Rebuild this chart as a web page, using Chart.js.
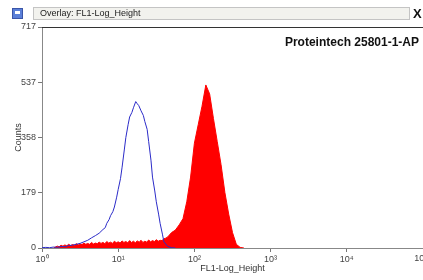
<!DOCTYPE html>
<html>
<head>
<meta charset="utf-8">
<script src="https://cdn.jsdelivr.net/npm/chart.js@4.4.0/dist/chart.umd.min.js"></script>
<style>
  html, body { margin: 0; padding: 0; background: #fff; overflow: hidden; }
  #wrap { position: relative; width: 423px; height: 280px; overflow: hidden; }
  #chart { position: absolute; left: 0; top: 0; }
  .icon { position: absolute; left: 12px; top: 8px; width: 11px; height: 11px; background: #5a7fd8; border: 1px solid #3a55a8; box-sizing: border-box; }
  .icon div { position: absolute; left: 2px; top: 2px; width: 5px; height: 3px; background: #fff; }
  .bar { position: absolute; left: 33px; top: 7px; width: 377px; height: 13px; background: #f2f2ee; border: 1px solid #c4c4c4; box-sizing: border-box;
         font: 9px Arial, "Liberation Sans", sans-serif; color: #222; line-height: 11px; padding-left: 6px; }
  .close { position: absolute; left: 413px; top: 6px; font: bold 13px Arial, "Liberation Sans", sans-serif; color: #111; }
</style>
</head>
<body>
<div id="wrap">
  <canvas id="chart" width="428" height="280"></canvas>
  <div class="icon"><div></div></div>
  <div class="bar">Overlay: FL1-Log_Height</div>
  <div class="close">X</div>
</div>
<script>
// channel positions are log10 of the fluorescence value
const blueLog = [0.00, 0.05, 0.10, 0.15, 0.20, 0.25, 0.30, 0.35, 0.40, 0.45, 0.50, 0.55, 0.60, 0.65, 0.70,
  0.75, 0.80, 0.83, 0.85, 0.88, 0.90, 0.93, 0.95, 0.98, 1.00, 1.03, 1.05, 1.08, 1.10, 1.13, 1.15, 1.18,
  1.20, 1.23, 1.25, 1.27, 1.30, 1.33, 1.35, 1.38, 1.40, 1.43, 1.45, 1.48, 1.50, 1.53, 1.55, 1.58,
  1.60, 1.65, 1.70, 1.75];
const blueCounts = [1, 2, 1, 3, 2, 5, 4, 8, 9, 12, 15, 20, 25, 33, 40,
  48, 60, 66, 80, 92, 105, 118, 133, 165, 190, 225, 260, 318, 358, 400, 425, 440,
  455, 475, 468, 462, 445, 430, 410, 385, 345, 285, 230, 185, 150, 110, 80, 45,
  20, 5, 1, 0];

const redLog = [0.150, 0.175, 0.200, 0.225, 0.250, 0.275, 0.300, 0.325, 0.350, 0.375, 0.400, 0.425,
  0.450, 0.475, 0.500, 0.525, 0.550, 0.575, 0.600, 0.625, 0.650, 0.675, 0.700, 0.725, 0.750, 0.775,
  0.800, 0.825, 0.850, 0.875, 0.900, 0.925, 0.950, 0.975, 1.000, 1.025, 1.050, 1.075, 1.100, 1.125,
  1.150, 1.175, 1.200, 1.225, 1.250, 1.275, 1.300, 1.325, 1.350, 1.375, 1.400, 1.425, 1.450, 1.475,
  1.500, 1.525, 1.550, 1.575, 1.600, 1.625, 1.650, 1.70, 1.75, 1.80, 1.85, 1.90, 1.95, 2.00, 2.05,
  2.10, 2.15, 2.20, 2.25, 2.30, 2.35, 2.40, 2.45, 2.50, 2.55, 2.60, 2.65];
const redCounts = [0, 3, 6, 4, 9, 6, 10, 7, 12, 8, 11, 9,
  14, 10, 13, 11, 16, 12, 15, 12, 18, 13, 16, 14, 19, 15,
  18, 14, 21, 16, 19, 15, 22, 17, 20, 16, 23, 18, 21, 17,
  24, 18, 22, 17, 23, 19, 25, 18, 22, 19, 26, 20, 24, 21,
  27, 22, 25, 24, 30, 32, 36, 50, 58, 75, 95, 150, 230, 340, 400,
  460, 529, 500, 420, 345, 270, 180, 110, 50, 12, 2, 0];

const yTicks = [0, 179, 358, 537, 717];
const xTicks = [1, 10, 100, 1000, 10000, 100000];
const xTickLabels = ['10⁰', '10¹', '10²', '10³', '10⁴', '10⁵'];

const FONT = 'Arial, "Liberation Sans", sans-serif';

function toPoints(logs, counts) {
  return logs.map((e, i) => ({ x: Math.pow(10, e), y: counts[i] }));
}

const frame = {
  id: 'frame',
  afterDraw(chart) {
    const { ctx, chartArea: a } = chart;
    const xs = chart.scales.x;
    ctx.save();
    ctx.strokeStyle = '#333';
    ctx.lineWidth = 1;
    ctx.beginPath();
    ctx.moveTo(a.left, a.top + 0.5);
    ctx.lineTo(a.right, a.top + 0.5);
    ctx.stroke();
    // last decade label sits on the window edge, so it is drawn here
    const last = xTicks.length - 1;
    ctx.font = '9px ' + FONT;
    ctx.fillStyle = '#444';
    ctx.textAlign = 'center';
    ctx.textBaseline = 'top';
    ctx.fillText(xTickLabels[last], xs.getPixelForValue(xTicks[last]) - 2, a.bottom + 6);
    ctx.font = 'bold 12px ' + FONT;
    ctx.fillStyle = '#111';
    ctx.textAlign = 'right';
    ctx.textBaseline = 'alphabetic';
    ctx.fillText('Proteintech 25801-1-AP', 419, 46);
    ctx.restore();
  }
};

new Chart(document.getElementById('chart'), {
  type: 'line',
  data: {
    datasets: [{
      label: 'control',
      data: toPoints(blueLog, blueCounts),
      borderColor: '#2b2bc8',
      borderWidth: 1,
      pointRadius: 0,
      fill: false,
      tension: 0
    }, {
      label: '25801-1-AP',
      data: toPoints(redLog, redCounts),
      borderColor: '#ff0000',
      backgroundColor: '#ff0000',
      borderWidth: 1,
      pointRadius: 0,
      fill: 'origin',
      tension: 0
    }]
  },
  options: {
    responsive: false,
    animation: false,
    layout: { padding: { top: 27, right: 5, left: 0, bottom: 0 } },
    plugins: { legend: { display: false }, tooltip: { enabled: false } },
    scales: {
      x: {
        type: 'logarithmic',
        min: 1,
        max: 100000,
        afterBuildTicks: s => { s.ticks = xTicks.map(v => ({ value: v })); },
        ticks: {
          callback: (v, i) => (i < xTicks.length - 1 ? xTickLabels[i] : ''),
          font: { size: 9, family: FONT },
          color: '#444',
          padding: 2,
          maxRotation: 0,
          autoSkip: false
        },
        grid: { drawOnChartArea: false, tickLength: 4, color: '#777' },
        border: { color: '#888' },
        title: { display: true, text: 'FL1-Log_Height', font: { size: 9, family: FONT }, color: '#333', padding: { top: 0, bottom: 6 } },
        afterFit: s => { s.height = 32; s.paddingLeft = 0; s.paddingRight = 0; }
      },
      y: {
        min: 0,
        max: 717,
        afterBuildTicks: s => { s.ticks = yTicks.map(v => ({ value: v })); },
        ticks: { font: { size: 9, family: FONT }, color: '#444', padding: 2 },
        grid: { drawOnChartArea: false, tickLength: 4, color: '#777' },
        border: { color: '#888' },
        title: { display: true, text: 'Counts', font: { size: 9, family: FONT }, color: '#333', padding: { top: 13, bottom: 0 } },
        afterFit: s => { s.width = 42; s.paddingTop = 0; s.paddingBottom = 0; }
      }
    }
  },
  plugins: [frame]
});
</script>
</body>
</html>
